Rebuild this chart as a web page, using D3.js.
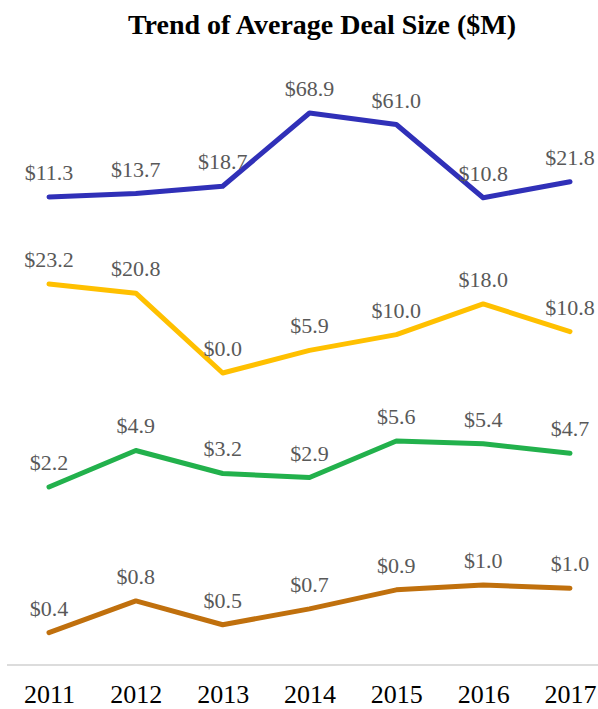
<!DOCTYPE html>
<html>
<head>
<meta charset="utf-8">
<script src="https://cdn.jsdelivr.net/npm/d3@7"></script>
<style>
  html, body { margin: 0; padding: 0; background: #fff; }
  svg { display: block; }
</style>
</head>
<body>
<div class="chart-container"></div>
<script>
// data
const years = ['2011', '2012', '2013', '2014', '2015', '2016', '2017'];
const seriesA = [11.3, 13.7, 18.7, 68.9, 61.0, 10.8, 21.8];
const seriesB = [23.2, 20.8, 0.0, 5.9, 10.0, 18.0, 10.8];
const seriesC = [2.2, 4.9, 3.2, 2.9, 5.6, 5.4, 4.7];
const seriesD = [0.4, 0.8, 0.5, 0.7, 0.94, 1.0, 0.96];
const titleText = 'Trend of Average Deal Size ($M)';

const width = 598, height = 709;
const labelColor = '#595959';
const fontFamily = '"Liberation Serif", "DejaVu Serif", serif';

// each series sits in its own band with its own scale
const bands = [
    { values: seriesA, color: '#3030b8', domain: [0, 70], range: [213.5, 111.4] },
    { values: seriesB, color: '#ffc000', domain: [0, 25], range: [373, 277.1] },
    { values: seriesC, color: '#22b14c', domain: [0, 6], range: [516.8, 435.6] },
    { values: seriesD, color: '#c0700d', domain: [0, 1], range: [664.4, 585.1] }
];

const svg = d3.select('.chart-container')
    .append('svg')
    .attr('width', width)
    .attr('height', height);

const x = d3.scalePoint()
    .domain(years)
    .range([49, 570]);

// title
svg.append('text')
    .attr('x', 322)
    .attr('y', 34)
    .attr('text-anchor', 'middle')
    .style('font-family', fontFamily)
    .style('font-weight', 'bold')
    .style('font-size', '28px')
    .style('fill', '#000')
    .text(titleText);

const line = d3.line();

bands.forEach(band => {
    const y = d3.scaleLinear().domain(band.domain).range(band.range);
    const pts = band.values.map((v, i) => [x(years[i]), y(v)]);

    svg.append('path')
        .attr('d', line(pts))
        .style('fill', 'none')
        .style('stroke', band.color)
        .style('stroke-width', 5)
        .style('stroke-linecap', 'round')
        .style('stroke-linejoin', 'round');

    svg.append('g')
        .selectAll('text')
        .data(band.values)
        .enter().append('text')
        .attr('x', (d, i) => x(years[i]))
        .attr('y', d => y(d) - 17)
        .attr('text-anchor', 'middle')
        .style('font-family', fontFamily)
        .style('font-size', '22px')
        .style('fill', labelColor)
        .text(d => '$' + d.toFixed(1));
});

// bottom axis
const axis = svg.append('g')
    .attr('transform', 'translate(0,665)')
    .call(d3.axisBottom(x).tickSize(0).tickPadding(0));
axis.select('.domain').remove();
axis.append('line')
    .attr('x1', 7)
    .attr('x2', width)
    .style('stroke', '#d0d0d0')
    .style('stroke-width', 1.5);
axis.selectAll('.tick text')
    .attr('dy', null)
    .attr('y', 38)
    .style('font-family', fontFamily)
    .style('font-size', '26px')
    .style('fill', '#000');
</script>
</body>
</html>
